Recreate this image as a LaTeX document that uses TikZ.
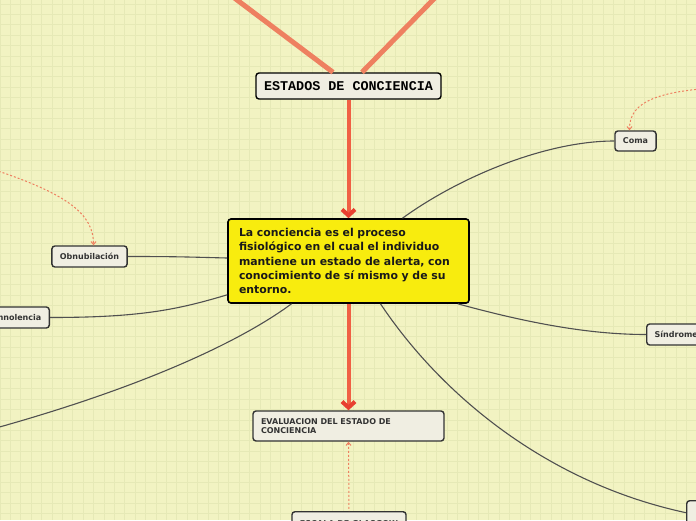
\documentclass[tikz,border=0pt]{standalone}
\usepackage{fontspec}
\setsansfont{DejaVu Sans}
\setmonofont{Liberation Mono}
\usetikzlibrary{arrows.meta,positioning}
\definecolor{paper}{RGB}{242,243,194}
\definecolor{gridline}{RGB}{230,233,182}
\definecolor{ink}{RGB}{51,51,51}
\definecolor{chalk}{RGB}{240,238,226}
\definecolor{lemon}{RGB}{248,236,14}
\definecolor{salmon}{RGB}{238,128,96}
\definecolor{tomato}{RGB}{240,96,68}
\definecolor{redtip}{RGB}{232,64,48}
\definecolor{branchgray}{RGB}{80,80,80}
\tikzset{
  every picture/.style={x=1pt, y=-1pt, line width=1pt},
  topic/.style={draw=ink, line width=1.4pt, rounded corners=3pt, fill=chalk, text=ink,
    inner xsep=8pt, inner ysep=0pt, minimum height=21pt, font=\sffamily\bfseries\fontsize{8}{9.5}\selectfont},
  root/.style={topic, draw=black, text=black, minimum width=185pt, minimum height=26pt,
    font=\ttfamily\bfseries\fontsize{13.4}{15}\selectfont},
  core/.style={draw=black, line width=1.6pt, rounded corners=3pt, fill=lemon, text=black!90,
    inner xsep=11pt, inner ysep=0pt, text width=219pt, minimum height=84pt, align=left,
    font=\sffamily\bfseries\fontsize{10.9}{14.4}\selectfont},
  trunk/.style={draw=tomato, line width=4pt, -{Straight Barb[length=6pt,width=13pt,color=redtip]}},
  limb/.style={draw=salmon, line width=5pt},
  branch/.style={draw=branchgray, line width=1.1pt},
  hint/.style={draw=salmon, line width=1pt, dash pattern=on 2pt off 2pt, -{Straight Barb[length=3pt,width=5pt]}},
}
\begin{document}
\begin{tikzpicture}
  \useasboundingbox (0,0) rectangle (696,520);
  \clip (0,0) rectangle (696,520);
  \fill[paper] (0,0) rectangle (696,520);
  \foreach \i in {0,...,67} {\draw[gridline, line width=0.9pt] (\i*10.4,0) -- (\i*10.4,520);}
  \foreach \j in {0,...,50} {\draw[gridline, line width=0.9pt] (0,\j*10.4+4) -- (696,\j*10.4+4);}

  % nodes
  \node[root] (head) at (348.5,86) {ESTADOS DE CONCIENCIA};
  \node[core] (def) at (348.5,261) {La conciencia es el proceso\\ fisiológico en el cual el individuo\\ mantiene un estado de alerta, con\\ conocimiento de sí mismo y de su\\ entorno.};
  \node[topic, minimum width=75pt] (obn) at (89.5,256.5) {Obnubilación};
  \node[topic, anchor=east] (som) at (50,317.5) {Somnolencia};
  \node[topic, minimum width=41pt, minimum height=20pt] (coma) at (635.5,141) {Coma};
  \node[topic, anchor=west] (sin) at (646,334.5) {Síndrome};
  \node[topic, text width=175pt, align=left, minimum height=30pt] (eval) at (348.5,426) {EVALUACION DEL ESTADO DE\\ CONCIENCIA};
  \node[topic, anchor=north, minimum width=114pt, minimum height=24pt] (glas) at (349,511) {ESCALA DE GLASGOW};
  \node[topic, anchor=north west, minimum width=60pt, minimum height=24pt] (far) at (686,500) {};
  \coordinate (upl) at (233.1,-3);
  \coordinate (upr) at (435.8,-3);
  \coordinate (off) at (-4,428);
  \coordinate (lefthint) at (-5,170);
  \coordinate (righthint) at (700,89);

  % connectors
  \draw[limb] (upl) -- ([xshift=-15.5pt]head.north);
  \draw[limb] (upr) -- ([xshift=13.5pt]head.north);
  \draw[trunk] (head.south) -- (def.north);
  \draw[trunk] (def.south) -- (eval.north);
  \draw[branch] ([xshift=54pt]def.north) .. controls +(55,-40) and +(-70,0) .. (coma.west);
  \draw[branch] (obn.east) .. controls +(50,0) and +(-40,-1) .. ([yshift=3pt]def.west);
  \draw[branch] (som.east) .. controls +(90,0) and +(-50,15) .. ([yshift=9pt]def.south west);
  \draw[branch] (off) .. controls +(150,-42) and +(-50,37) .. ([xshift=-57pt]def.south);
  \draw[branch] ([xshift=-12pt]def.south east) .. controls +(80,22) and +(-50,0) .. (sin.west);
  \draw[branch] ([xshift=32pt]def.south) .. controls +(60,90) and +(-140,-30) .. (far.west);
  \draw[hint] (lefthint) .. controls +(75,25) and +(0,-30) .. ([xshift=4pt]obn.north);
  \draw[hint] (righthint) .. controls +(-50,5) and +(0,-25) .. ([xshift=-6pt]coma.north);
  \draw[hint, {Straight Barb[length=3pt,width=5pt]}-] (eval.south) -- (glas.north);
\end{tikzpicture}
\end{document}
